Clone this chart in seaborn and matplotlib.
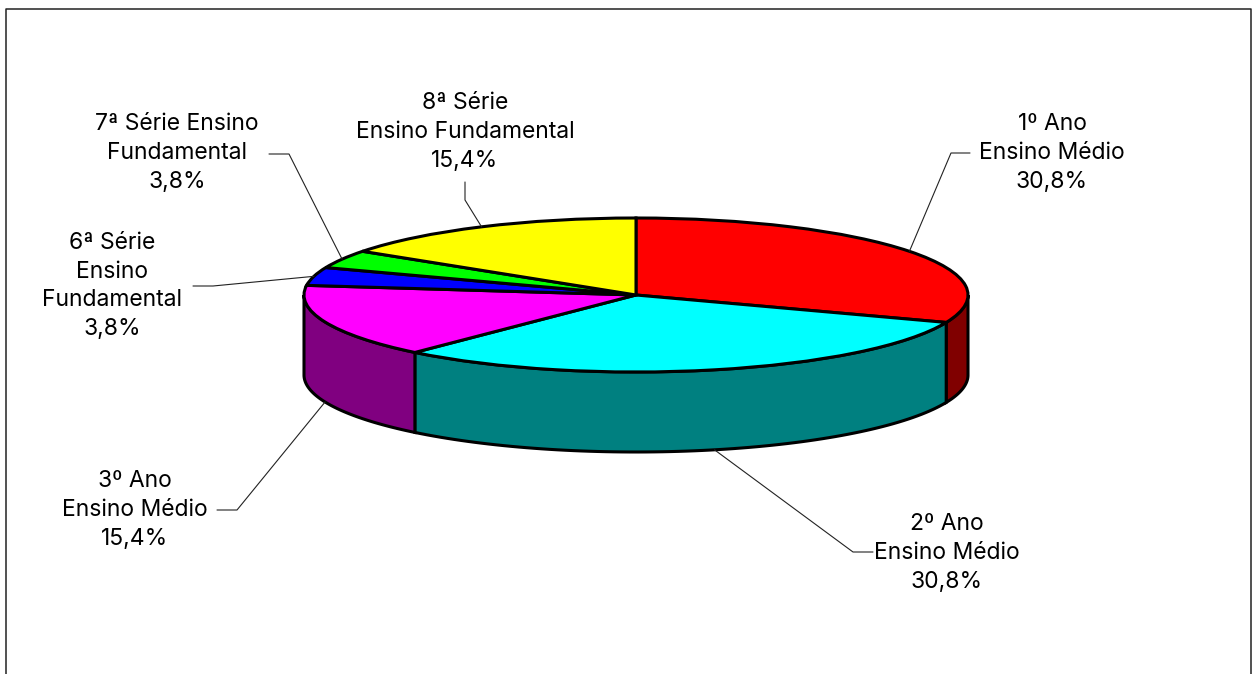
import numpy as np
import seaborn as sns
import matplotlib.pyplot as plt

# slice values, clockwise from 12 o'clock
labels = ['1º Ano\nEnsino Médio', '2º Ano\nEnsino Médio', '3º Ano\nEnsino Médio',
          '6ª Série\nEnsino\nFundamental', '7ª Série Ensino\nFundamental',
          '8ª Série\nEnsino Fundamental']
values = [30.8, 30.8, 15.4, 3.8, 3.8, 15.4]
pct_text = ['30,8%', '30,8%', '15,4%', '3,8%', '3,8%', '15,4%']
top_colors = ['#ff0000', '#00ffff', '#ff00ff', '#0000ff', '#00ff00', '#ffff00']
side_colors = ['#800000', '#008080', '#800080', '#000080', '#008000', '#808000']

# label centre and leader elbow/end, in image pixels
label_pos = [(1052, 153), (947, 553), (135, 510), (112, 286), (177, 153), (465, 132)]
leader_elbow = [(951, 153), (853, 552), (237, 510), (213, 286), (289, 154), (465, 200)]
leader_end = [(970, 153), (873, 552), (217, 510), (193, 286), (269, 154), (465, 182)]

W, H = 1256, 674
CX, CY, RX, RY, DEPTH = 636, 295, 332, 77, 80


def to_data(x, y):
    return (x - CX) / RX, (CY - y) / RY


sns.set_theme(style='white')
plt.rcParams['font.family'] = ['Inter', 'DejaVu Sans']

fig = plt.figure(figsize=(W / 100, H / 100), dpi=100, facecolor='white')
ax = fig.add_axes([0, 0, 1, 1])

angles = 90 - np.cumsum([0] + values) / sum(values) * 360
drop = DEPTH / RY

# side wall, only the part of each slice facing the viewer
for i in range(len(values)):
    hi = min(angles[i], 0)
    lo = max(angles[i + 1], -180)
    if hi <= lo:
        continue
    t = np.radians(np.linspace(hi, lo, 80))
    x, y = np.cos(t), np.sin(t)
    ax.fill(np.r_[x, x[::-1]], np.r_[y, y[::-1] - drop], facecolor=side_colors[i],
            edgecolor='black', lw=2.2, zorder=1)

ax.pie(values, colors=sns.color_palette(top_colors), startangle=90, counterclock=False,
       radius=1, wedgeprops=dict(edgecolor='black', linewidth=2.2, zorder=2))

ax.set_aspect('auto')
ax.set_xlim(*sorted([to_data(0, 0)[0], to_data(W, 0)[0]]))
ax.set_ylim(to_data(0, H)[1], to_data(0, 0)[1])
ax.axis('off')

for i, lab in enumerate(labels):
    mid = np.radians((angles[i] + angles[i + 1]) / 2)
    sx, sy = np.cos(mid), np.sin(mid)
    if sy < 0:
        sy -= drop
    ex, ey = to_data(*leader_elbow[i])
    fx, fy = to_data(*leader_end[i])
    ax.plot([sx, ex, fx], [sy, ey, fy], color='#222222', lw=0.8, zorder=3)
    tx, ty = to_data(*label_pos[i])
    ax.text(tx, ty, lab + '\n' + pct_text[i], ha='center', va='center', fontsize=16.5,
            linespacing=1.39, color='black', zorder=4)

# outer frame, its bottom edge falls outside the picture
fx0, fy0 = to_data(5.5, 8.5)
fx1, fy1 = to_data(1251, H + 10)
ax.plot([fx0, fx0, fx1, fx1], [fy1, fy0, fy0, fy1], color='#222222', lw=1.1, zorder=5)

fig.savefig('out.png', dpi=100, facecolor='white')
